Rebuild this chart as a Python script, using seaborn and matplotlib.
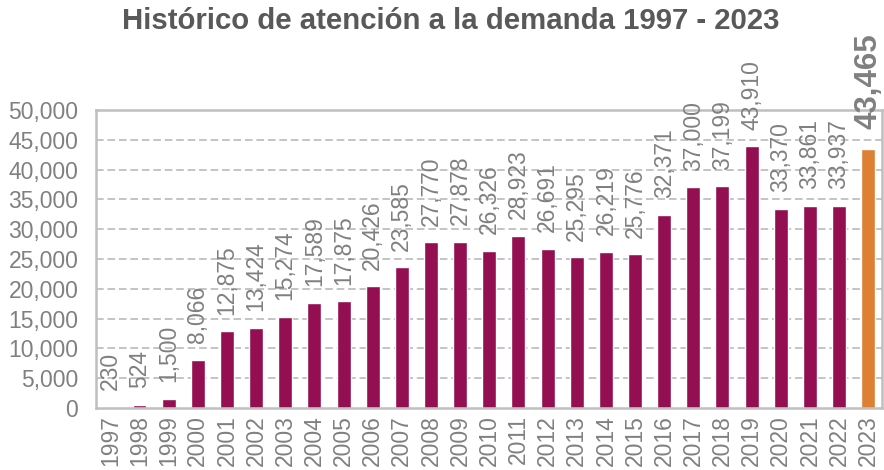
import numpy as np
import pandas as pd
import seaborn as sns
import matplotlib.pyplot as plt

# datos
years = [str(y) for y in range(1997, 2024)]
values = [230, 524, 1500, 8066, 12875, 13424, 15274, 17589, 17875, 20426,
          23585, 27770, 27878, 26326, 28923, 26691, 25295, 26219, 25776,
          32371, 37000, 37199, 43910, 33370, 33861, 33937, 43465]
groups = ["hist"] * 26 + ["actual"]

df = pd.DataFrame({"anio": years, "valor": values, "grupo": groups})

sns.set_style("white")
plt.rcParams["font.family"] = ["Liberation Sans", "DejaVu Sans"]

gray = "#808080"
fig = plt.figure(figsize=(8.84, 4.70), dpi=100)
ax = fig.add_axes([0.109, 0.132, 0.889, 0.634])

sns.barplot(data=df, x="anio", y="valor", hue="grupo",
            palette={"hist": "#930f52", "actual": "#dd8034"},
            saturation=1, dodge=False, width=0.48, legend=False, ax=ax)

ax.set_ylim(0, 50000)
ax.set_xlim(-0.48, 26.48)
ax.set_yticks(range(0, 50001, 5000))
ax.set_yticklabels([f"{v:,}" for v in range(0, 50001, 5000)])
for v in range(5000, 50000, 5000):
    ax.axhline(v, color="#b4b4b4", ls=(0, (5, 2.5)), lw=1.1, zorder=0)

for s in ax.spines.values():
    s.set_color("#bfbfbf")
    s.set_linewidth(1.8)

ax.tick_params(axis="y", labelsize=16.5, colors=gray, length=0, pad=13)
ax.tick_params(axis="x", labelsize=16.5, colors=gray, length=0, pad=5,
               rotation=90)
ax.set_xlabel("")
ax.set_ylabel("")

# etiquetas de valor
for i, v in enumerate(values):
    last = i == len(values) - 1
    ax.annotate(f"{v:,}", (i, v), xytext=(0, 14 if last else 12),
                textcoords="offset points", rotation=90, ha="center",
                va="bottom", color=gray,
                fontsize=22.5 if last else 16.5,
                fontweight="bold" if last else "normal",
                annotation_clip=False)

fig.suptitle("Histórico de atención a la demanda 1997 - 2023", x=0.51, y=0.985,
             fontsize=21.2, fontweight="bold", color="#595959")

fig.savefig("out.png", dpi=100)
